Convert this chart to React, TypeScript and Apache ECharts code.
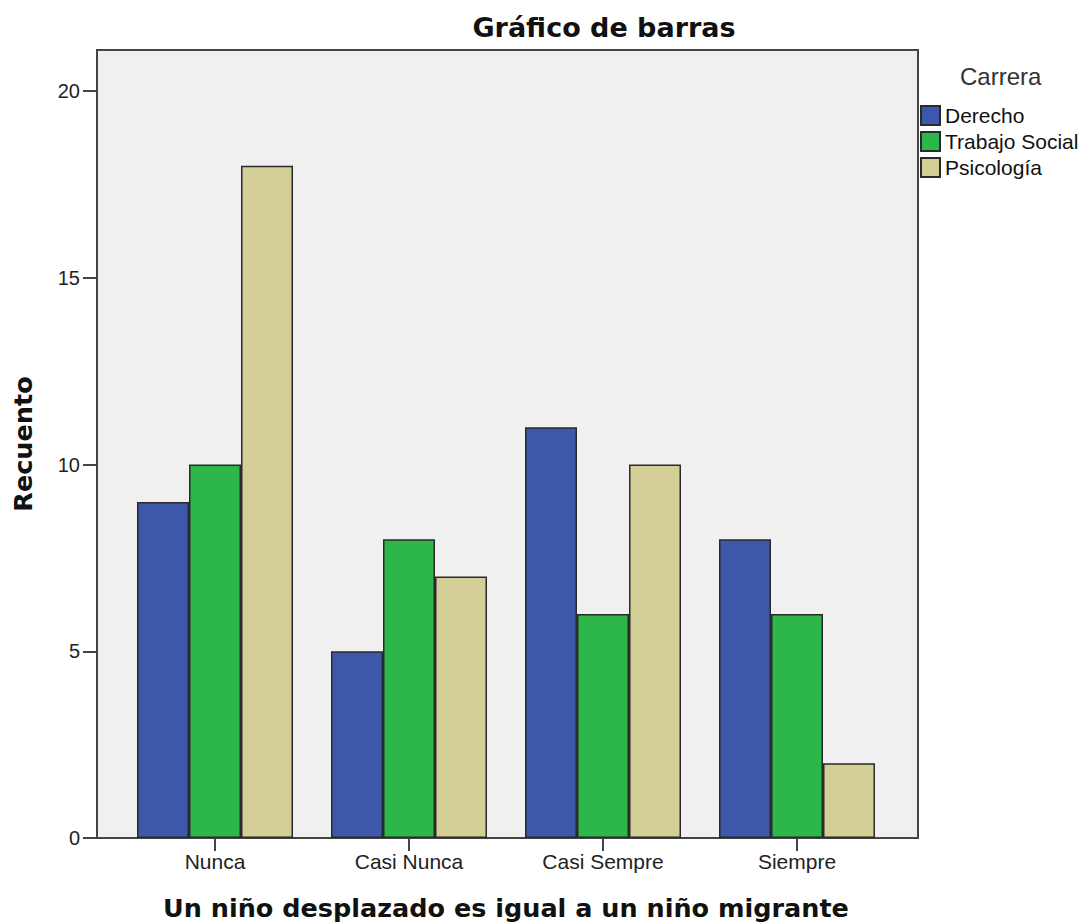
import React, { useEffect, useRef } from "react";
import * as echarts from "echarts";

const categories = ["Nunca", "Casi Nunca", "Casi Sempre", "Siempre"];
const seriesNames = ["Derecho", "Trabajo Social", "Psicología"];
const derecho = [9, 5, 11, 8];
const trabajoSocial = [10, 8, 6, 6];
const psicologia = [18, 7, 10, 2];
const colors = ["#3d57ab", "#2db74a", "#d3cf96"];
const yTicks = [0, 5, 10, 15, 20];

const FONT = "'Liberation Sans', Arial, sans-serif";
const BOLD = "'DejaVu Sans', 'Liberation Sans', sans-serif";

export default function App() {
  const ref = useRef<HTMLDivElement>(null);
  useEffect(() => {
    const chart = echarts.init(ref.current!, null, { renderer: "svg" });
    const yMax = 21.1;
    const dataSets = [derecho, trabajoSocial, psicologia];
    chart.setOption({
      animation: false,
      textStyle: { fontFamily: FONT },
      title: [
        {
          text: "Gráfico de barras",
          left: 604,
          textAlign: "center",
          top: 14,
          padding: 0,
          textStyle: { fontSize: 27, fontWeight: "bold", color: "#111", fontFamily: BOLD },
        },
        {
          text: "Carrera",
          left: 960,
          top: 64,
          padding: 0,
          textStyle: { fontSize: 24, fontWeight: "normal", color: "#333", fontFamily: FONT },
        },
      ],
      legend: {
        data: seriesNames,
        orient: "vertical",
        left: 920,
        top: 105,
        padding: 0,
        itemWidth: 19,
        itemHeight: 19,
        itemGap: 5,
        icon: "rect",
        textStyle: { fontSize: 21, color: "#111", fontFamily: FONT },
      },
      grid: [
        {
          left: 97,
          top: 50,
          width: 821,
          height: 788,
          show: true,
          backgroundColor: "#f0f0f0",
          borderColor: "#444",
          borderWidth: 2,
          outerBoundsMode: "none",
        },
        { left: 118, top: 50, width: 776, height: 788, outerBoundsMode: "none" },
      ],
      xAxis: [
        { gridIndex: 0, type: "value", min: 0, max: 1, show: false },
        {
          gridIndex: 1,
          type: "category",
          data: categories,
          boundaryGap: true,
          axisLine: { show: false },
          axisTick: { show: true, alignWithLabel: true, length: 13, lineStyle: { color: "#444", width: 2 } },
          axisLabel: { fontSize: 21, color: "#222", margin: 13, fontFamily: FONT },
          name: "Un niño desplazado es igual a un niño migrante",
          nameLocation: "middle",
          nameGap: 57,
          nameTextStyle: { fontSize: 25.5, fontWeight: "bold", color: "#111", fontFamily: BOLD },
        },
      ],
      yAxis: [
        {
          gridIndex: 0,
          type: "value",
          min: 0,
          max: yMax,
          interval: 5,
          axisLine: { show: true, lineStyle: { color: "#444", width: 2 } },
          axisTick: { show: true, length: 14, customValues: yTicks, lineStyle: { color: "#444", width: 2 } },
          axisLabel: {
            fontSize: 20,
            color: "#222",
            margin: 17,
            fontFamily: FONT,
            customValues: yTicks,
          },
          splitLine: { show: false },
          name: "Recuento",
          nameLocation: "middle",
          nameGap: 61,
          nameTextStyle: { fontSize: 25.5, fontWeight: "bold", color: "#111", fontFamily: BOLD },
        },
        { gridIndex: 1, type: "value", min: 0, max: yMax, show: false },
      ],
      series: seriesNames.map((name, i) => ({
        name,
        type: "bar",
        xAxisIndex: 1,
        yAxisIndex: 1,
        data: dataSets[i],
        barWidth: 52,
        barGap: "0%",
        itemStyle: { color: colors[i], borderColor: "#2a2a2a", borderWidth: 1.5 },
      })),
    });
    return () => chart.dispose();
  }, []);
  return (
    <div
      ref={ref}
      style={{ position: "fixed", left: 0, top: 0, width: 1086, height: 924, background: "#fff" }}
    />
  );
}
